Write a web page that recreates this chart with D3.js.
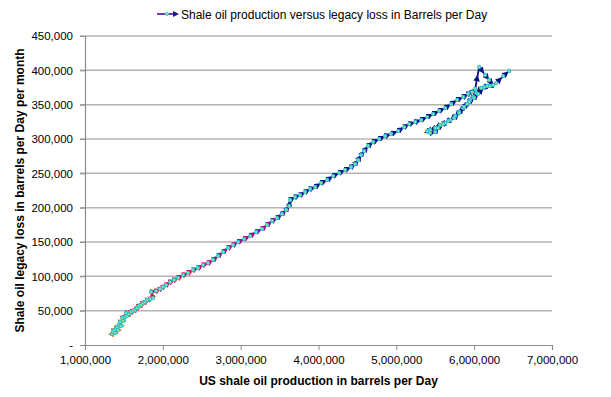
<!DOCTYPE html>
<html><head><meta charset="utf-8">
<script src="https://cdn.jsdelivr.net/npm/d3@7"></script>
<style>body{margin:0;background:#fff}svg{display:block;font-family:"Liberation Sans",Arial,sans-serif}</style>
</head><body>
<svg id="c" width="611" height="397"></svg>
<script>
// US shale oil production (barrels per day)
const production = [
1347000,1360000,1386000,1373000,1398000,1424000,1411000,1437000,1463000,1450000,
1488000,1476000,1514000,1540000,1527000,1566000,1591000,1617000,1643000,1668000,
1694000,1720000,1746000,1771000,1797000,1835000,1874000,1848000,1913000,1964000,
2003000,2041000,2093000,2144000,2195000,2260000,2324000,2388000,2452000,2517000,
2581000,2645000,2710000,2774000,2838000,2902000,2967000,3044000,3121000,3198000,
3275000,3339000,3404000,3468000,3532000,3584000,3622000,3635000,3699000,3764000,
3828000,3892000,3956000,4033000,4111000,4188000,4265000,4342000,4419000,4470000,
4509000,4548000,4586000,4638000,4702000,4779000,4856000,4933000,5023000,5100000,
5165000,5242000,5319000,5396000,5473000,5550000,5627000,5704000,5781000,5859000,
5923000,5974000,6013000,6064000,6141000,6193000,6244000,6167000,6090000,6026000,
5987000,5949000,5910000,5859000,5807000,5756000,5692000,5627000,5563000,5499000,
5434000,5396000,5434000,5499000,5537000,5602000,5666000,5743000,5807000,5871000,
5936000,6000000,6051000,6129000,6206000,6283000,6373000,6450000];
// Shale oil legacy loss (barrels per day per month)
const legacyLoss = [
16000,19000,17500,21800,23300,21800,26200,29100,27700,33500,
35000,39300,40800,42200,46600,45100,48100,49500,51000,53900,
56800,58300,61200,62600,65500,67000,68400,77200,78600,81600,
84500,87400,91700,94700,97600,101900,104900,109200,112100,116500,
119400,123800,129600,135400,141300,145600,150000,154400,158700,164600,
168900,174800,180600,184900,190800,196600,202400,211200,215500,218400,
222800,227200,230100,235900,240300,246100,250500,254900,259200,263600,
269400,276700,282500,289800,295600,300000,304400,307300,311600,317400,
321800,324800,327700,332000,336400,340800,345100,351000,356800,361200,
365500,368400,372800,404900,393200,385900,378600,377200,374300,367000,
361200,356800,351000,345100,339300,333500,327700,323300,320400,316000,
313100,311600,308700,310200,316000,321800,326200,330600,337900,346600,
353900,359700,365500,375700,377200,381500,391700,399000];
const xTicks = [1000000,2000000,3000000,4000000,5000000,6000000,7000000];
const yTicks = [0,50000,100000,150000,200000,250000,300000,350000,400000,450000];
const legendLabel = "Shale oil production versus legacy loss in Barrels per Day";
const xTitle = "US shale oil production in barrels per Day";
const yTitle = "Shale oil legacy loss in barrels per Day per month";

const svg = d3.select("#c");
const L = 85, R = 552, T = 36, B = 345;
const x = d3.scaleLinear().domain([1000000, 7000000]).range([L, R]);
const y = d3.scaleLinear().domain([0, 450000]).range([B, T]);
const fmt = d3.format(",");

// gridlines
svg.append("g").selectAll("line").data(yTicks.filter(d => d > 0)).join("line")
  .attr("x1", L - 5).attr("x2", R).attr("y1", d => y(d)).attr("y2", d => y(d))
  .attr("stroke", "#b4b4b4").attr("stroke-width", 1.5);

// axes
const xa = svg.append("g").attr("transform", `translate(0,${B})`)
  .call(d3.axisBottom(x).tickValues(xTicks).tickFormat(fmt).tickSize(5).tickPadding(6));
const ya = svg.append("g").attr("transform", `translate(${L},0)`)
  .call(d3.axisLeft(y).tickValues(yTicks).tickFormat(d => d === 0 ? "-" : fmt(d)).tickSize(5).tickPadding(7));
[xa, ya].forEach(a => {
  a.select(".domain").attr("stroke", "#8c8c8c").attr("stroke-width", 1.2);
  a.selectAll(".tick line").attr("stroke", "#8c8c8c");
  a.selectAll("text").attr("fill", "#000").attr("font-size", 11.5).attr("font-family", "Liberation Sans, Arial, sans-serif");
});

// colour by time index
const n = production.length;
const col = d3.scaleLinear()
  .domain([0, 0.2, 0.3, 0.4, 0.45, 1].map(f => f * (n - 1)))
  .range(["#ff6a00", "#e8102a", "#cc0066", "#90109a", "#14148a", "#0a0a80"])
  .interpolate(d3.interpolateRgb);

const defs = svg.append("defs");
const pts = production.map((p, i) => [x(p), y(legacyLoss[i])]);
const g = svg.append("g");
for (let i = 0; i < n - 1; i++) {
  const c = col(i + 0.5);
  const id = "ar" + i;
  defs.append("marker").attr("id", id).attr("viewBox", "0 0 10 10").attr("refX", 5).attr("refY", 5)
    .attr("markerWidth", 6.5).attr("markerHeight", 6.5).attr("orient", "auto").attr("markerUnits", "userSpaceOnUse")
    .append("path").attr("d", "M0,0L10,5L0,10z").attr("fill", c);
  const a = pts[i], b = pts[i + 1];
  const m = [(a[0] + b[0]) / 2, (a[1] + b[1]) / 2];
  g.append("path").attr("d", d3.line()([a, m, b])).attr("fill", "none")
    .attr("stroke", c).attr("stroke-width", 1.8).attr("marker-mid", `url(#${id})`);
}
svg.append("g").selectAll("circle").data(pts).join("circle")
  .attr("cx", d => d[0]).attr("cy", d => d[1]).attr("r", 1.5)
  .attr("fill", "#d2f06a").attr("stroke", "#2cc3d6").attr("stroke-width", 1.3);

// legend
const lg = svg.append("g");
defs.append("marker").attr("id", "lgar").attr("viewBox", "0 0 10 10").attr("refX", 5).attr("refY", 5)
  .attr("markerWidth", 6).attr("markerHeight", 6).attr("orient", "auto").attr("markerUnits", "userSpaceOnUse")
  .append("path").attr("d", "M0,0L10,5L0,10z").attr("fill", "#1a1a8c");
lg.append("path").attr("d", "M157,14L168,14L176,14").attr("stroke", "#5a2aa8").attr("stroke-width", 1.8)
  .attr("fill", "none").attr("marker-end", "url(#lgar)");
lg.append("circle").attr("cx", 167).attr("cy", 14).attr("r", 1.5).attr("fill", "#d2f06a").attr("stroke", "#2cc3d6").attr("stroke-width", 1);
lg.append("text").attr("x", 181).attr("y", 18.5).attr("font-size", 12).attr("fill", "#000").text(legendLabel);

// axis titles
svg.append("text").attr("x", (L + R) / 2).attr("y", 385).attr("text-anchor", "middle")
  .attr("font-size", 12).attr("font-weight", "bold").text(xTitle);
svg.append("text").attr("transform", `translate(24,${(T + B) / 2}) rotate(-90)`).attr("text-anchor", "middle")
  .attr("font-size", 12).attr("font-weight", "bold").text(yTitle);
</script>
</body></html>
